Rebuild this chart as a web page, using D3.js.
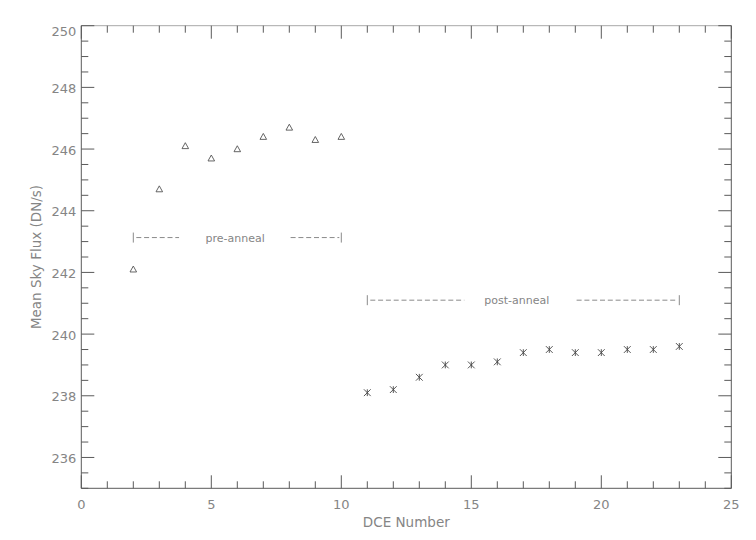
<!DOCTYPE html>
<html lang="en">
<head>
<meta charset="utf-8">
<title>Mean Sky Flux</title>
<script src="https://d3js.org/d3.v7.min.js"></script>
<style>
  body { margin: 0; background: #fff; }
  text { font-family: "DejaVu Sans", sans-serif; fill: #858585; }
</style>
</head>
<body>
<div id="chart"></div>
<script>
// pre-anneal points (triangles)
const preDce = [2, 3, 4, 5, 6, 7, 8, 9, 10];
const preFlux = [242.1, 244.7, 246.1, 245.7, 246.0, 246.4, 246.7, 246.3, 246.4];

// post-anneal points (asterisks)
const postDce = [11, 12, 13, 14, 15, 16, 17, 18, 19, 20, 21, 22, 23];
const postFlux = [238.1, 238.2, 238.6, 239.0, 239.0, 239.1, 239.4, 239.5, 239.4, 239.4, 239.5, 239.5, 239.6];

// labelled brackets: ends, dash gap and text centre in DCE units
const brackets = [
  { label: "pre-anneal", from: 2, to: 10, level: 243.13, leftEnd: 3.76, rightStart: 8.05, textAt: 5.92 },
  { label: "post-anneal", from: 11, to: 23, level: 241.1, leftEnd: 14.73, rightStart: 19.05, textAt: 16.75 }
];

const xTicks = [0, 5, 10, 15, 20, 25];
const yTicks = [236, 238, 240, 242, 244, 246, 248, 250];

const W = 756, H = 540;
const margin = { top: 25.7, right: 24.7, bottom: 51.7, left: 81.3 };
const width = W - margin.left - margin.right;
const height = H - margin.top - margin.bottom;

const svg = d3.select("#chart").append("svg")
  .attr("width", W).attr("height", H);
const g = svg.append("g")
  .attr("transform", `translate(${margin.left},${margin.top})`);

const x = d3.scaleLinear().domain([0, 25]).range([0, width]);
const y = d3.scaleLinear().domain([235, 250]).range([height, 0]);

const axisColor = "#5a5a5a";
const majorLen = 13, minorLen = 7;

// frame
g.append("line").attr("x1", 0).attr("x2", width).attr("y1", 0).attr("y2", 0)
  .attr("stroke", "#a8a8a8");
g.append("line").attr("x1", 0).attr("x2", width).attr("y1", height).attr("y2", height)
  .attr("stroke", axisColor);
g.append("line").attr("x1", 0).attr("x2", 0).attr("y1", 0).attr("y2", height)
  .attr("stroke", axisColor);
g.append("line").attr("x1", width).attr("x2", width).attr("y1", 0).attr("y2", height)
  .attr("stroke", axisColor);

// x ticks (bottom and top, pointing inward)
const xMinor = d3.range(0, 25.01, 1);
xMinor.forEach(v => {
  const len = v % 5 === 0 ? majorLen : minorLen;
  g.append("line").attr("x1", x(v)).attr("x2", x(v))
    .attr("y1", height).attr("y2", height - len)
    .attr("stroke", axisColor);
  g.append("line").attr("x1", x(v)).attr("x2", x(v))
    .attr("y1", 0).attr("y2", len)
    .attr("stroke", axisColor);
});

// y ticks (left and right)
const yMinor = d3.range(235, 250.01, 0.5);
yMinor.forEach(v => {
  const len = Math.abs(v % 2) < 1e-9 ? majorLen : minorLen;
  g.append("line").attr("x1", 0).attr("x2", len)
    .attr("y1", y(v)).attr("y2", y(v))
    .attr("stroke", axisColor);
  g.append("line").attr("x1", width).attr("x2", width - len)
    .attr("y1", y(v)).attr("y2", y(v))
    .attr("stroke", axisColor);
});

// tick labels
g.selectAll(".xlab").data(xTicks).join("text")
  .attr("x", d => x(d)).attr("y", height + 20.5)
  .attr("text-anchor", "middle")
  .attr("font-size", 13)
  .text(d => d);

g.selectAll(".ylab").data(yTicks).join("text")
  .attr("x", -5).attr("y", d => Math.max(y(d) + 5.7, 10))
  .attr("text-anchor", "end")
  .attr("font-size", 13)
  .text(d => d);

// axis titles
g.append("text")
  .attr("x", width / 2).attr("y", height + 38.5)
  .attr("text-anchor", "middle").attr("font-size", 13.5)
  .text("DCE Number");

g.append("text")
  .attr("transform", `translate(-40.5,${height / 2}) rotate(-90)`)
  .attr("text-anchor", "middle").attr("font-size", 13.5)
  .text("Mean Sky Flux (DN/s)");

// triangles
const tri = 3.3;
g.selectAll(".tri").data(preDce).join("path")
  .attr("d", (d, i) => {
    const cx = x(d), cy = y(preFlux[i]);
    return `M${cx},${cy - tri}L${cx + tri},${cy + tri * 0.8}L${cx - tri},${cy + tri * 0.8}Z`;
  })
  .attr("fill", "none").attr("stroke", "#555").attr("stroke-width", 0.9);

// asterisks
const as = 3.4;
g.selectAll(".ast").data(postDce).join("path")
  .attr("d", (d, i) => {
    const cx = x(d), cy = y(postFlux[i]);
    return `M${cx - as},${cy - as}L${cx + as},${cy + as}` +
      `M${cx - as},${cy + as}L${cx + as},${cy - as}` +
      `M${cx},${cy - as}L${cx},${cy + as}`;
  })
  .attr("fill", "none").attr("stroke", "#444").attr("stroke-width", 0.9);

// brackets
brackets.forEach(b => {
  const yy = y(b.level);
  const grp = g.append("g").attr("stroke", "#8a8a8a").attr("stroke-width", 1);
  grp.append("line").attr("x1", x(b.from)).attr("x2", x(b.from))
    .attr("y1", yy - 5).attr("y2", yy + 5);
  grp.append("line").attr("x1", x(b.to)).attr("x2", x(b.to))
    .attr("y1", yy - 5).attr("y2", yy + 5);
  grp.append("line").attr("x1", x(b.from) + 3).attr("x2", x(b.leftEnd))
    .attr("y1", yy).attr("y2", yy).attr("stroke-dasharray", "5,2.8");
  grp.append("line").attr("x1", x(b.rightStart)).attr("x2", x(b.to) - 2)
    .attr("y1", yy).attr("y2", yy).attr("stroke-dasharray", "5,2.8");
  g.append("text").attr("x", x(b.textAt)).attr("y", yy + 4)
    .attr("text-anchor", "middle").attr("font-size", 11)
    .text(b.label);
});
</script>
</body>
</html>
